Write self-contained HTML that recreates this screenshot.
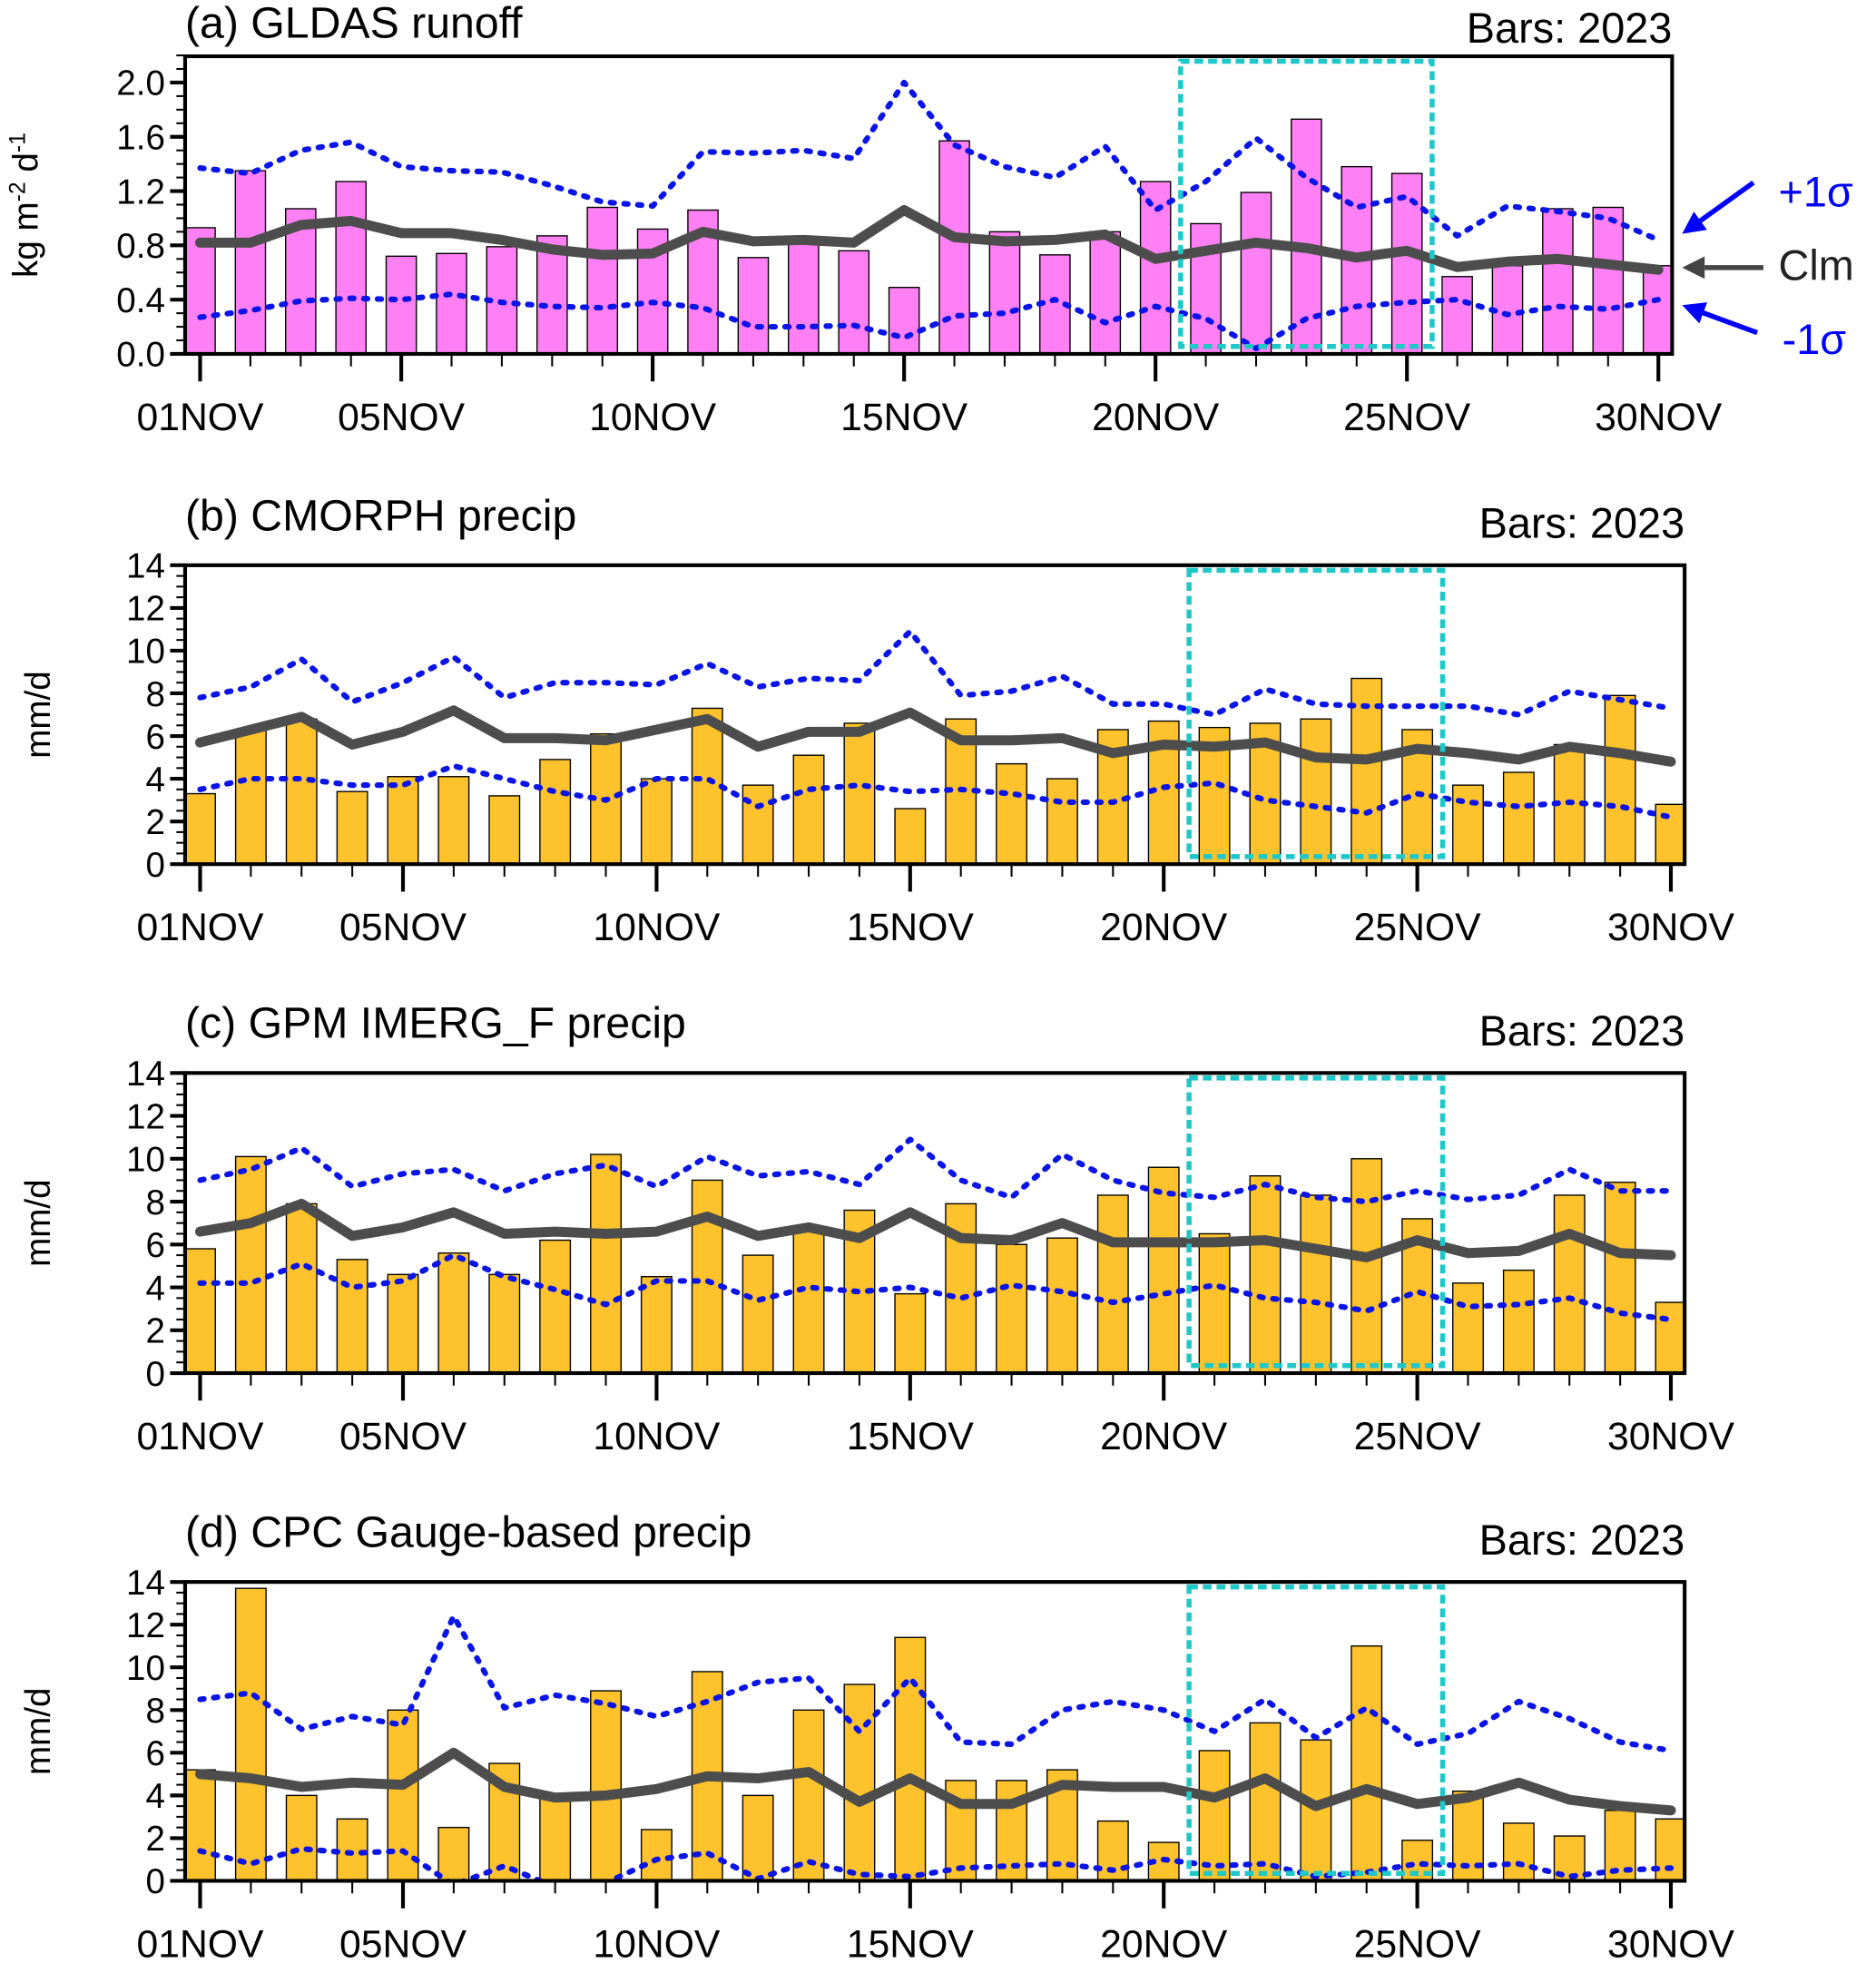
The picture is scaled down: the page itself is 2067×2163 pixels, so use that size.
<!DOCTYPE html>
<html><head><meta charset="utf-8">
<style>
html,body{margin:0;padding:0;background:#fff;}
svg{display:block;}
text{font-family:"Liberation Sans Narrow","Liberation Sans",sans-serif;fill:#000;}
</style></head>
<body>
<svg id="chart" xmlns="http://www.w3.org/2000/svg" width="2067" height="2163" viewBox="0 0 1500 1569.7"></svg>
<script>
const days = Array.from({length:30},(_,i)=>i+1);
const tickDays = [1,5,10,15,20,25,30];
const tickLabels = ["01NOV","05NOV","10NOV","15NOV","20NOV","25NOV","30NOV"];

const aBars = [0.93,1.35,1.07,1.27,0.72,0.74,0.79,0.87,1.08,0.92,1.06,0.71,0.83,0.76,0.49,1.57,0.90,0.73,0.90,1.27,0.96,1.19,1.73,1.38,1.33,0.57,0.65,1.07,1.08,0.65];
const aClm = [0.82,0.82,0.95,0.98,0.89,0.89,0.84,0.77,0.73,0.74,0.90,0.83,0.84,0.82,1.06,0.86,0.83,0.84,0.88,0.70,0.76,0.82,0.78,0.71,0.76,0.64,0.68,0.70,0.66,0.62];
const aHi = [1.37,1.33,1.50,1.56,1.38,1.35,1.34,1.24,1.12,1.09,1.49,1.48,1.50,1.44,2.00,1.54,1.38,1.30,1.53,1.06,1.27,1.59,1.30,1.08,1.16,0.87,1.09,1.05,1.00,0.84];
const aLo = [0.27,0.32,0.39,0.41,0.40,0.44,0.38,0.35,0.34,0.38,0.34,0.20,0.20,0.21,0.12,0.28,0.30,0.40,0.23,0.35,0.26,0.04,0.26,0.35,0.38,0.40,0.29,0.35,0.33,0.40];

const bBars = [3.3,6.3,6.8,3.4,4.1,4.1,3.2,4.9,6.1,4.0,7.3,3.7,5.1,6.6,2.6,6.8,4.7,4.0,6.3,6.7,6.4,6.6,6.8,8.7,6.3,3.7,4.3,5.6,7.9,2.8];
const bClm = [5.7,6.3,6.9,5.6,6.2,7.2,5.9,5.9,5.8,6.3,6.8,5.5,6.2,6.2,7.1,5.8,5.8,5.9,5.2,5.6,5.5,5.7,5.0,4.9,5.4,5.2,4.9,5.5,5.2,4.8];
const bHi = [7.8,8.3,9.6,7.6,8.5,9.7,7.8,8.5,8.5,8.4,9.4,8.3,8.7,8.6,10.9,7.9,8.1,8.8,7.5,7.5,7.0,8.2,7.5,7.4,7.4,7.4,7.0,8.1,7.7,7.3];
const bLo = [3.5,4.0,4.0,3.7,3.7,4.6,4.0,3.4,3.0,4.0,4.0,2.7,3.5,3.7,3.4,3.5,3.3,2.9,2.9,3.6,3.8,3.0,2.7,2.4,3.3,2.9,2.7,2.9,2.7,2.2];

const cBars = [5.8,10.1,7.9,5.3,4.6,5.6,4.6,6.2,10.2,4.5,9.0,5.5,6.8,7.6,3.7,7.9,6.0,6.3,8.3,9.6,6.5,9.2,8.3,10.0,7.2,4.2,4.8,8.3,8.9,3.3];
const cClm = [6.6,7.0,7.9,6.4,6.8,7.5,6.5,6.6,6.5,6.6,7.3,6.4,6.8,6.3,7.5,6.3,6.2,7.0,6.1,6.1,6.1,6.2,5.8,5.4,6.2,5.6,5.7,6.5,5.6,5.5];
const cHi = [9.0,9.5,10.5,8.7,9.3,9.5,8.5,9.3,9.7,8.7,10.1,9.2,9.4,8.8,10.9,9.0,8.2,10.2,9.0,8.4,8.2,8.8,8.2,8.0,8.5,8.1,8.3,9.5,8.5,8.5];
const cLo = [4.2,4.2,5.1,4.0,4.3,5.5,4.5,3.9,3.2,4.3,4.3,3.4,4.0,3.8,4.0,3.5,4.1,3.8,3.3,3.7,4.1,3.5,3.3,2.9,3.8,3.1,3.2,3.5,2.8,2.5];

const dBars = [5.2,13.7,4.0,2.9,8.0,2.5,5.5,4.0,8.9,2.4,9.8,4.0,8.0,9.2,11.4,4.7,4.7,5.2,2.8,1.8,6.1,7.4,6.6,11.0,1.9,4.2,2.7,2.1,3.3,2.9];
const dClm = [5.0,4.8,4.4,4.6,4.5,6.0,4.4,3.9,4.0,4.3,4.9,4.8,5.1,3.7,4.8,3.6,3.6,4.5,4.4,4.4,3.9,4.8,3.5,4.3,3.6,3.9,4.6,3.8,3.5,3.3];
const dHi = [8.5,8.8,7.1,7.7,7.3,12.4,8.1,8.7,8.3,7.7,8.4,9.3,9.5,7.0,9.5,6.5,6.4,8.0,8.4,8.0,7.0,8.5,6.7,8.1,6.4,6.9,8.4,7.6,6.5,6.1];
const dLo = [1.4,0.8,1.5,1.3,1.4,-0.2,0.7,-0.3,-0.1,1.0,1.3,0.1,0.9,0.3,0.2,0.6,0.7,0.8,0.5,1.0,0.7,0.8,0.2,0.4,0.8,0.7,0.8,0.2,0.5,0.6];

const aYTicks = [0,0.4,0.8,1.2,1.6,2.0];
const aYLabels = ["0.0","0.4","0.8","1.2","1.6","2.0"];
const pYTicks = [0,2,4,6,8,10,12,14];
const pYLabels = ["0","2","4","6","8","10","12","14"];
const eventStart = 20.5, eventEnd = 25.5;

const NS="http://www.w3.org/2000/svg";
const svg=document.getElementById('chart');
function mk(tag,attrs,parent){const e=document.createElementNS(NS,tag);for(const k in attrs)e.setAttribute(k,attrs[k]);(parent||svg).appendChild(e);return e;}

function panel(cfg){
  const g=mk('g',{});
  
  
  const {x0,x1,y0,y1,dx0,dx1,ymin,ymaxTick,yTop}=cfg;
  const X=d=>dx0+(d-1)*(dx1-dx0)/29;
  const Y=v=>y1-(v-ymin)*(y1-yTop)/(ymaxTick-ymin);
  const bw=(dx1-dx0)/29*0.6;
  const cid='clip-'+cfg.name;
  const defs=mk('defs',{},g);
  const cp=mk('clipPath',{id:cid},defs);
  mk('rect',{x:x0,y:y0,width:x1-x0,height:y1-y0},cp);
  const pg=mk('g',{'clip-path':'url(#'+cid+')'},g);
  cfg.bars.forEach((v,i)=>{
    const r=mk('rect',{x:X(days[i])-bw/2,y:Y(v),width:bw,height:Y(0)-Y(v),fill:cfg.color,stroke:'#000','stroke-width':1},pg);
    
    
  });
  const line=(arr,attrs,nm)=>{
    const p=mk('polyline',Object.assign({points:arr.map((v,i)=>X(days[i])+','+Y(v)).join(' '),fill:'none','stroke-linejoin':'round','stroke-linecap':'round'},attrs),pg);
    
    
  };
  line(cfg.hi,{stroke:'#0a14e6','stroke-width':4.5,'stroke-dasharray':'3 8'},'plus-1-sigma-line');
  line(cfg.lo,{stroke:'#0a14e6','stroke-width':4.5,'stroke-dasharray':'3 8'},'minus-1-sigma-line');
  line(cfg.clm,{stroke:'#4d4d4d','stroke-width':8},'climatology-line');
  const eb=mk('rect',{x:X(eventStart),y:y0+4,width:X(eventEnd)-X(eventStart),height:y1-y0-10,fill:'none',stroke:'#1ec8c8','stroke-width':4,'stroke-dasharray':'7 4'},g);
  
  
  const fr=mk('rect',{x:x0,y:y0,width:x1-x0,height:y1-y0,fill:'none',stroke:'#000','stroke-width':3},g);
  
  
  for(let v=ymin; v<=cfg.yTopVal+1e-9; v+=cfg.minor){
    const isMaj=cfg.yTicks.some(t=>Math.abs(t-v)<1e-6);
    mk('line',{x1:x0,x2:x0-(isMaj?12:7),y1:Y(v),y2:Y(v),stroke:'#000','stroke-width':isMaj?3:1.5},g);
  }
  cfg.yTicks.forEach((v,i)=>{
    const t=mk('text',{x:x0-16,y:Y(v)+10,'text-anchor':'end','font-size':28},g);
    t.textContent=cfg.yLabels[i];
    
    
  });
  days.forEach(d=>{
    const isMaj=tickDays.includes(d);
    mk('line',{x1:X(d),x2:X(d),y1:y1,y2:y1+(isMaj?22:10),stroke:'#000','stroke-width':isMaj?3:1.5},g);
  });
  tickDays.forEach((d,i)=>{
    const t=mk('text',{x:X(d),y:y1+61,'text-anchor':'middle','font-size':31},g);
    t.textContent=tickLabels[i];
    
    
  });
  const tt=mk('text',{x:x0,y:cfg.titleY,'font-size':35},g);
  tt.textContent=cfg.title;
  
  
  const bt=mk('text',{x:x1,y:cfg.barsY,'text-anchor':'end','font-size':34},g);
  bt.textContent='Bars: 2023';
  
  
  const cy=(y0+y1)/2;
  const yl=mk('text',{x:0,y:0,'text-anchor':'middle','font-size':28,transform:`translate(${cfg.ylabX},${cy}) rotate(-90)`},g);
  yl.innerHTML=cfg.ylab;
  
  
}

panel({name:'panel-a-gldas-runoff',x0:148,x1:1337,y0:45,y1:283,dx0:160,dx1:1326,ymin:0,ymaxTick:2.0,yTop:66,yTopVal:2.2,minor:0.1,
  yTicks:aYTicks,yLabels:aYLabels,bars:aBars,clm:aClm,hi:aHi,lo:aLo,color:'#ff80f4',
  title:'(a) GLDAS runoff',titleY:30,barsY:34,ylabX:30,ylab:'kg m<tspan dy="-10" font-size="18">-2</tspan><tspan dy="10"> d</tspan><tspan dy="-10" font-size="18">-1</tspan>'});
panel({name:'panel-b-cmorph-precip',x0:148,x1:1347,y0:452,y1:691,dx0:160,dx1:1336,ymin:0,ymaxTick:14,yTop:452,yTopVal:14,minor:0.5,
  yTicks:pYTicks,yLabels:pYLabels,bars:bBars,clm:bClm,hi:bHi,lo:bLo,color:'#fec22c',
  title:'(b) CMORPH precip',titleY:424,barsY:430,ylabX:40,ylab:'mm/d'});
panel({name:'panel-c-gpm-imerg-precip',x0:148,x1:1347,y0:858,y1:1098,dx0:160,dx1:1336,ymin:0,ymaxTick:14,yTop:858,yTopVal:14,minor:0.5,
  yTicks:pYTicks,yLabels:pYLabels,bars:cBars,clm:cClm,hi:cHi,lo:cLo,color:'#fec22c',
  title:'(c) GPM IMERG_F precip',titleY:830,barsY:836,ylabX:40,ylab:'mm/d'});
panel({name:'panel-d-cpc-gauge-precip',x0:148,x1:1347,y0:1265,y1:1504,dx0:160,dx1:1336,ymin:0,ymaxTick:14,yTop:1265,yTopVal:14,minor:0.5,
  yTicks:pYTicks,yLabels:pYLabels,bars:dBars,clm:dClm,hi:dHi,lo:dLo,color:'#fec22c',
  title:'(d) CPC Gauge-based precip',titleY:1237,barsY:1243,ylabX:40,ylab:'mm/d'});

const ann=mk('g',{});


function arrow(x1,y1,x2,y2,col,nm){
  const a=Math.atan2(y2-y1,x2-x1),L=18,W=9;
  mk('line',{x1:x1,y1:y1,x2:x2-Math.cos(a)*L,y2:y2-Math.sin(a)*L,stroke:col,'stroke-width':4},ann);
  const p=mk('polygon',{points:`${x2},${y2} ${x2-Math.cos(a)*L-Math.sin(a)*W},${y2-Math.sin(a)*L+Math.cos(a)*W} ${x2-Math.cos(a)*L+Math.sin(a)*W},${y2-Math.sin(a)*L-Math.cos(a)*W}`,fill:col},ann);
  
  
}
arrow(1402,146,1345,187,'#0000ff','plus-sigma-arrow');
arrow(1410,214,1345,214,'#444','clm-arrow');
arrow(1405,266,1345,244,'#0000ff','minus-sigma-arrow');
const lt=[['+1σ',1422,165,'#0000ff','plus-sigma-label'],['Clm',1422,224,'#222','clm-label'],['-1σ',1425,283,'#0000ff','minus-sigma-label']];
lt.forEach(l=>{const t=mk('text',{x:l[1],y:l[2],'font-size':34,fill:l[3],style:'font-family:"Liberation Sans",sans-serif;fill:'+l[3]},ann);t.textContent=l[0];
  
  });
</script>
</body></html>
